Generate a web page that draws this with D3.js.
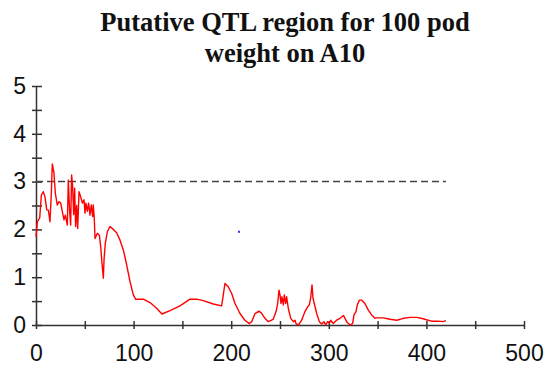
<!DOCTYPE html>
<html>
<head>
<meta charset="utf-8">
<script src="https://cdn.jsdelivr.net/npm/d3@7"></script>
<style>
  body { margin: 0; background: #fff; }
</style>
</head>
<body>
<svg id="chart" width="545" height="373"></svg>
<script>
// map position (cM) and LOD score
const positions = [0,1.4,3.8,5.5,7.5,9.2,11,12.7,14.3,15.7,16.7,18.4,19.8,21.8,23.6,25.3,27.3,28.7,30,32.1,
  33.1,34.4,35.5,36.5,37.5,38.6,39.6,40.6,41.7,42.7,44.1,45.8,47.5,49.2,50.2,51.2,52.6,53.9,55.3,56.6,
  58,58.7,59.7,60.5,62.9,64.9,66.3,67.6,69,69.7,71,73.1,75.8,79.2,82.6,86,89.5,92.9,96.3,99.7,
  102,110,116.8,123.6,129,137.3,147.5,157.8,164.6,171.4,181.7,190.2,191.9,193.6,197,200.5,203.9,209,214,218.6,
  221,224.4,228.5,231,234.6,238,243,246,247.6,249,250,251,252,253.4,254.4,255.8,256.8,258.5,261,263.6,
  265.4,266.4,268.8,272.2,275.6,278.3,280,281.4,282.8,283.8,287.6,290.3,292.7,295,296.7,298.8,300.5,302,304.5,308,
  311.5,315,318.3,321.7,324.4,325.8,327.9,329.2,331.3,333.7,337,340.5,343.9,347.3,349,355.9,362.7,369.6,376.4,383.2,
  390,396.8,400,405.4,412,417,420]
const lod = [1.85,2.16,2.24,2.72,2.79,2.68,2.41,2.4,2.16,2.75,3.37,3.18,2.76,2.51,2.58,2.55,2.34,2.2,2.3,2.09,
  3.03,2.4,2.09,3.14,2.9,2.31,2.86,2.06,2.5,2.02,2.79,2.68,2.55,2.62,2.34,2.55,2.38,2.55,2.3,2.51,
  2.27,2.51,2.23,1.81,1.92,1.88,1.64,1.29,0.98,1.36,1.71,1.95,2.06,2.0,1.93,1.78,1.57,1.26,0.91,0.63,
  0.54,0.54,0.47,0.35,0.23,0.3,0.4,0.54,0.54,0.51,0.44,0.4,0.63,0.87,0.8,0.66,0.45,0.24,0.1,0.03,
  0.07,0.24,0.29,0.25,0.14,0.07,0.12,0.28,0.45,0.73,0.63,0.45,0.59,0.42,0.63,0.45,0.59,0.35,0.14,0.07,
  0.1,0.03,0.0,0.1,0.28,0.38,0.42,0.56,0.84,0.56,0.24,0.07,0.02,0.07,0.0,0.07,0.04,0.1,0.03,0.1,
  0.14,0.2,0.07,0.0,0.03,0.21,0.28,0.42,0.52,0.52,0.45,0.31,0.21,0.14,0.15,0.15,0.12,0.1,0.14,0.16,
  0.16,0.13,0.11,0.08,0.08,0.07,0.09]

const threshold = 3
const thresholdEnd = 420
const marker = [208, 1.95]   // the stray blue dot
const xTicks = [0, 50, 100, 150, 200, 250, 300, 350, 400, 450, 500]
const xLabels = [0, 100, 200, 300, 400, 500]
const yTicks = [0, 0.5, 1, 1.5, 2, 2.5, 3, 3.5, 4, 4.5, 5]
const titleLines = ["Putative QTL region for 100 pod", "weight on A10"]

const svg = d3.select("#chart")
const axisColor = "#333"

const x = d3.scaleLinear().domain([0, 500]).range([36, 524])
const y = d3.scaleLinear().domain([0, 5]).range([325, 86])

// title
svg.append("g")
  .selectAll("text")
  .data(titleLines)
  .enter()
  .append("text")
    .attr("x", 285)
    .attr("y", (d, i) => 31 + i * 31)
    .attr("text-anchor", "middle")
    .attr("font-family", "'Liberation Serif', 'Times New Roman', serif")
    .attr("font-weight", "bold")
    .attr("font-size", 26.5)
    .attr("fill", "#111")
    .text(d => d)

// x axis
const gx = svg.append("g")
  .attr("transform", `translate(0,${y(0)})`)
  .call(d3.axisBottom(x)
    .tickValues(xTicks)
    .tickSizeOuter(0)
    .tickFormat(d => xLabels.includes(d) ? d : ""))
gx.select(".domain").attr("stroke", axisColor).attr("stroke-width", 1.5)
gx.selectAll(".tick line")
  .attr("y1", -4).attr("y2", 4)
  .attr("stroke", axisColor).attr("stroke-width", 1.5)
gx.selectAll(".tick text")
  .attr("y", 20)
  .attr("font-family", "'Liberation Sans', Arial, sans-serif")
  .attr("font-size", 23)
  .attr("fill", "#111")

// y axis
const gy = svg.append("g")
  .attr("transform", `translate(${x(0)},0)`)
  .call(d3.axisLeft(y)
    .tickValues(yTicks)
    .tickSizeOuter(0)
    .tickFormat(d => Number.isInteger(d) ? d : ""))
gy.select(".domain").attr("stroke", axisColor).attr("stroke-width", 1.5)
gy.selectAll(".tick line")
  .attr("x1", -4).attr("x2", 6)
  .attr("stroke", axisColor).attr("stroke-width", 1.5)
gy.selectAll(".tick text")
  .attr("x", -10)
  .attr("font-family", "'Liberation Sans', Arial, sans-serif")
  .attr("font-size", 23)
  .attr("fill", "#111")

// threshold line
svg.append("line")
  .attr("x1", x(0)).attr("x2", x(thresholdEnd))
  .attr("y1", y(threshold)).attr("y2", y(threshold))
  .attr("stroke", "#444")
  .attr("stroke-width", 1.5)
  .attr("stroke-dasharray", "7,4")

// LOD profile
const line = d3.line()
  .x(d => x(d[0]))
  .y(d => y(d[1]))
svg.append("path")
  .datum(d3.zip(positions, lod))
  .attr("d", line)
  .attr("fill", "none")
  .attr("stroke", "#ff0000")
  .attr("stroke-width", 1.4)
  .attr("stroke-linejoin", "round")

svg.append("rect")
  .attr("x", x(marker[0]) - 1).attr("y", y(marker[1]) - 1)
  .attr("width", 2).attr("height", 2)
  .attr("fill", "#3030ff")
</script>
</body>
</html>
